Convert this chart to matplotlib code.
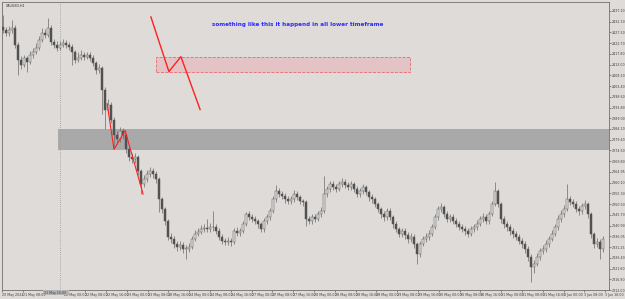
import matplotlib.pyplot as plt
from matplotlib.patches import Rectangle
import numpy as np

closes = [2428.6, 2427.3, 2428.6, 2429.5, 2421.9, 2415.2, 2413.0, 2416.1, 2414.3, 2417.4,
          2418.8, 2420.6, 2424.1, 2427.3, 2426.4, 2429.5, 2423.3, 2421.9, 2420.6, 2421.9,
          2422.8, 2421.9, 2421.0, 2418.8, 2415.2, 2416.1, 2417.4, 2416.6, 2417.4, 2416.1,
          2413.9, 2410.8, 2411.6, 2401.8, 2392.9, 2395.1, 2388.4, 2381.7, 2379.5, 2383.1,
          2381.7, 2375.0, 2371.5, 2370.6, 2371.5, 2365.2, 2359.4, 2361.6, 2363.9, 2365.2,
          2363.9, 2361.6, 2352.7, 2348.3, 2342.9, 2335.8, 2334.9, 2332.6, 2331.3, 2332.2,
          2330.4, 2330.4, 2331.3, 2334.9, 2337.1, 2338.0, 2339.3, 2339.8, 2339.3, 2340.2,
          2340.2, 2338.4, 2335.8, 2334.0, 2333.5, 2334.0, 2333.5, 2338.4, 2337.5, 2338.4,
          2341.6, 2346.0, 2344.7, 2343.8, 2342.9, 2341.6, 2339.3, 2342.9, 2344.7, 2347.4,
          2352.7, 2356.3, 2355.0, 2354.1, 2352.7, 2351.8, 2352.7, 2355.0, 2353.6, 2351.8,
          2351.4, 2343.8, 2342.9, 2344.7, 2343.8, 2346.0, 2347.4, 2355.0, 2357.2, 2359.4,
          2358.1, 2357.2, 2359.4, 2360.3, 2359.0, 2358.1, 2359.4, 2357.2, 2355.0, 2356.3,
          2358.1, 2355.8, 2353.6, 2352.7, 2350.5, 2348.3, 2346.0, 2344.7, 2347.4, 2344.7,
          2341.6, 2339.3, 2337.1, 2338.4, 2336.6, 2334.9, 2335.8, 2332.6, 2328.2, 2332.6,
          2334.9, 2335.8, 2337.1, 2340.2, 2344.7, 2348.3, 2349.1, 2346.0, 2343.8, 2344.7,
          2342.9, 2341.6, 2340.2, 2339.3, 2338.4, 2337.1, 2339.3, 2340.2, 2341.6, 2343.8,
          2344.7, 2342.9, 2346.0, 2350.5, 2356.3, 2350.5, 2343.8, 2341.6, 2340.2, 2338.4,
          2337.1, 2335.8, 2334.0, 2332.6, 2330.4, 2326.8, 2322.4, 2323.7, 2326.8, 2329.5,
          2330.4, 2332.6, 2334.9, 2337.1, 2340.2, 2343.8, 2346.0, 2348.3, 2352.7, 2351.4,
          2350.5, 2348.3, 2347.4, 2349.5, 2350.5, 2346.0, 2337.1, 2332.6, 2333.5, 2330.4,
          2334.9]
highs = [2435.3, 2430.0, 2430.2, 2433.1, 2430.6, 2423.0, 2416.8, 2417.5, 2417.0, 2419.0,
         2420.3, 2422.5, 2425.8, 2429.5, 2428.8, 2434.0, 2430.8, 2424.6, 2423.4, 2423.6,
         2424.5, 2424.0, 2423.1, 2422.2, 2419.8, 2418.5, 2419.5, 2418.6, 2418.8, 2418.5,
         2417.2, 2414.8, 2413.5, 2412.4, 2403.0, 2397.4, 2396.2, 2389.6, 2383.4, 2385.0,
         2384.8, 2382.6, 2376.3, 2373.2, 2373.4, 2372.5, 2366.3, 2363.4, 2365.6, 2367.0,
         2366.8, 2365.2, 2362.5, 2353.8, 2349.4, 2343.8, 2337.5, 2336.0, 2334.0, 2333.8,
         2333.5, 2332.0, 2333.0, 2336.4, 2338.8, 2340.0, 2341.0, 2341.6, 2343.8, 2342.0,
         2347.4, 2341.5, 2339.6, 2337.0, 2335.4, 2335.6, 2335.2, 2339.8, 2340.2, 2340.0,
         2343.0, 2346.9, 2347.4, 2346.0, 2345.0, 2344.0, 2342.6, 2344.2, 2346.2, 2348.8,
         2354.0, 2359.0, 2357.6, 2356.2, 2355.4, 2354.0, 2354.2, 2356.8, 2356.4, 2354.8,
         2353.0, 2352.4, 2345.2, 2346.0, 2346.0, 2347.6, 2349.0, 2363.0, 2358.8, 2361.0,
         2360.8, 2359.6, 2361.0, 2362.0, 2361.6, 2360.4, 2361.0, 2360.6, 2358.4, 2357.8,
         2359.6, 2359.2, 2357.0, 2355.0, 2353.8, 2351.6, 2349.4, 2347.4, 2348.8, 2348.6,
         2345.8, 2342.8, 2340.4, 2340.0, 2339.6, 2337.8, 2337.4, 2337.0, 2333.6, 2334.0,
         2336.4, 2337.4, 2338.8, 2341.6, 2346.0, 2349.8, 2350.8, 2350.2, 2347.2, 2346.2,
         2346.0, 2344.2, 2342.8, 2341.6, 2340.8, 2339.8, 2340.8, 2341.8, 2343.2, 2345.2,
         2346.4, 2346.0, 2347.6, 2352.0, 2360.3, 2357.4, 2351.4, 2345.0, 2343.0, 2341.6,
         2339.8, 2338.6, 2337.2, 2335.4, 2333.8, 2331.6, 2328.0, 2325.6, 2328.4, 2331.0,
         2332.0, 2334.2, 2336.4, 2338.8, 2341.8, 2345.4, 2347.8, 2350.0, 2359.4, 2354.2,
         2353.0, 2351.8, 2349.8, 2351.0, 2352.2, 2351.6, 2347.0, 2338.2, 2335.4, 2334.8,
         2336.4]
lows = [2427.0, 2425.8, 2426.0, 2427.4, 2420.5, 2408.5, 2411.0, 2411.8, 2409.9, 2413.2,
        2416.0, 2417.6, 2419.5, 2423.0, 2424.8, 2425.2, 2422.0, 2420.3, 2419.0, 2419.4,
        2420.8, 2420.4, 2419.5, 2413.0, 2413.6, 2414.0, 2415.0, 2415.3, 2415.4, 2414.7,
        2412.4, 2408.9, 2409.4, 2390.7, 2384.0, 2391.0, 2386.8, 2375.9, 2377.4, 2378.2,
        2379.9, 2373.2, 2369.8, 2368.8, 2369.0, 2363.6, 2355.0, 2358.0, 2360.3, 2362.5,
        2362.4, 2360.0, 2346.9, 2346.5, 2341.0, 2334.2, 2333.2, 2331.0, 2329.6, 2330.0,
        2328.6, 2325.9, 2329.0, 2330.4, 2333.8, 2336.0, 2336.9, 2338.0, 2337.8, 2338.0,
        2338.6, 2337.0, 2334.2, 2332.5, 2332.0, 2332.2, 2331.8, 2332.6, 2336.0, 2336.2,
        2337.4, 2340.6, 2343.2, 2342.4, 2341.4, 2340.0, 2337.8, 2338.2, 2341.8, 2343.6,
        2346.6, 2351.6, 2353.6, 2352.8, 2351.2, 2350.4, 2350.6, 2351.6, 2352.2, 2350.4,
        2349.8, 2340.7, 2341.4, 2341.8, 2342.4, 2342.8, 2344.8, 2346.6, 2353.6, 2356.0,
        2356.8, 2355.8, 2356.2, 2358.2, 2357.6, 2356.8, 2357.0, 2355.8, 2353.6, 2353.8,
        2355.2, 2354.4, 2352.0, 2351.2, 2349.0, 2346.8, 2344.4, 2343.0, 2343.6, 2343.2,
        2340.0, 2337.8, 2335.6, 2335.8, 2335.0, 2333.2, 2333.6, 2331.0, 2323.7, 2327.0,
        2331.6, 2333.6, 2334.6, 2336.2, 2339.2, 2343.6, 2347.0, 2344.6, 2342.4, 2342.6,
        2341.4, 2340.2, 2338.8, 2337.8, 2336.8, 2335.6, 2336.0, 2338.0, 2339.0, 2340.6,
        2342.6, 2341.4, 2341.8, 2345.0, 2349.6, 2349.0, 2342.2, 2340.0, 2338.6, 2336.8,
        2335.4, 2334.2, 2332.4, 2331.0, 2328.8, 2325.0, 2315.7, 2319.8, 2322.6, 2325.6,
        2328.0, 2329.2, 2331.4, 2333.8, 2336.0, 2339.0, 2342.6, 2344.8, 2347.2, 2350.0,
        2349.0, 2346.8, 2345.8, 2346.2, 2348.2, 2344.4, 2335.4, 2330.8, 2331.2, 2326.0,
        2329.2]
first_open = 2430.0

price_ticks = [2437.10, 2432.30, 2427.50, 2422.70, 2417.80, 2413.00, 2408.20, 2403.40,
               2398.60, 2393.80, 2389.00, 2384.20, 2379.40, 2374.60, 2369.80, 2364.95,
               2360.10, 2355.30, 2350.50, 2345.70, 2340.90, 2336.05, 2331.25, 2326.40,
               2321.60, 2316.80, 2312.00]
time_labels = ["20 May 2024", "21 May 08:00", "21 May 16:00", "22 May 00:00", "22 May 08:00",
               "22 May 16:00", "23 May 00:00", "23 May 08:00", "23 May 16:00", "24 May 00:00",
               "24 May 08:00", "24 May 16:00", "27 May 00:00", "27 May 08:00", "27 May 16:00",
               "28 May 00:00", "28 May 08:00", "28 May 16:00", "29 May 00:00", "29 May 08:00",
               "29 May 16:00", "30 May 00:00", "30 May 08:00", "30 May 16:00", "31 May 00:00",
               "31 May 08:00", "31 May 16:00", "3 Jun 00:00", "3 Jun 08:00", "3 Jun 16:00"]
marker_label = "21 May 16:00"

zone_low, zone_high = 2374.6, 2384.0
box_low, box_high = 2409.9, 2416.6
note = "something like this it happend in all lower timeframe"

bg = '#dedbd8'
fig = plt.figure(figsize=(6.25, 2.99), dpi=100, facecolor=bg)
ax = fig.add_axes([2/625, 1 - 290/299, 607/625, 288/299])
ax.set_facecolor(bg)

n = len(closes)
x = np.arange(n)
opens = [first_open] + closes[:-1]

# support / resistance zone
ax.axhspan(zone_low, zone_high, xmin=(18.3 + 0.33) / 202.33, xmax=1, color='#a9a9a9', lw=0, zorder=1)

# candles
ax.vlines(x, lows, highs, color='#6a6a6a', lw=0.5, zorder=2)
for i in range(n):
    o, c = opens[i], closes[i]
    bull = c >= o
    h = max(abs(c - o), 0.25)
    ax.add_patch(Rectangle((i - 0.33, min(o, c)), 0.66, h,
                           facecolor='#e2e2e2' if bull else '#4f4f4f',
                           edgecolor='#5a5a5a', lw=0.35, zorder=3))

# vertical dotted marker
ax.axvline(19, color='#9a9a9a', lw=0.6, ls=(0, (1, 1.5)), zorder=1)

# pink box
ax.add_patch(Rectangle((51, box_low), 84.7, box_high - box_low, facecolor='#e3c3c6',
                       edgecolor='#e86a6a', lw=0.6, ls='--', zorder=4))

# red zigzags
ax.plot([49.3, 55.3, 59.3, 65.7], [2434.4, 2409.9, 2416.6, 2392.9], color='#ff2020', lw=1.0, zorder=5)
ax.plot([34.7, 37.0, 40.7, 46.7], [2395.6, 2375.0, 2383.5, 2355.0], color='#ff2020', lw=0.8, zorder=5)

ax.text(98.3, 2430.8, note, color='#2a2aff', fontsize=4.1, fontweight='bold',
        ha='center', va='center', zorder=6)
ax.text(1, 2439.3, "XAUUSD,H1", fontsize=2.3, color='#333333', va='center', zorder=6)

ax.set_xlim(-0.33, 202)
ax.set_ylim(2312.5, 2441.1)

ax.yaxis.tick_right()
ax.set_yticks(price_ticks)
ax.set_yticklabels([f"{p:.2f}" for p in price_ticks], fontsize=2.3, color='#404040')
ax.tick_params(axis='y', length=1.5, width=0.4, pad=0.8, colors='#404040')

tick_pos = [(20.8 * k - 1) / 3 for k in range(len(time_labels))]
shown = [("" if t == marker_label else t) for t in time_labels]
ax.set_xticks(tick_pos)
ax.set_xticklabels(shown, fontsize=2.3, color='#404040', ha='left')
ax.tick_params(axis='x', length=1.5, width=0.4, pad=0.8, colors='#404040')

# highlighted date under the dotted line
ax.text(tick_pos[time_labels.index(marker_label)], 2311.6, marker_label + "   ", fontsize=2.3,
        color='#404040', ha='left', va='top',
        bbox=dict(boxstyle='square,pad=0.15', fc='#b4b4b4', ec='none'),
        clip_on=False, zorder=7)

for s in ax.spines.values():
    s.set_color('#707070')
    s.set_linewidth(0.6)

fig.savefig('out.png', dpi=100, facecolor=bg)
